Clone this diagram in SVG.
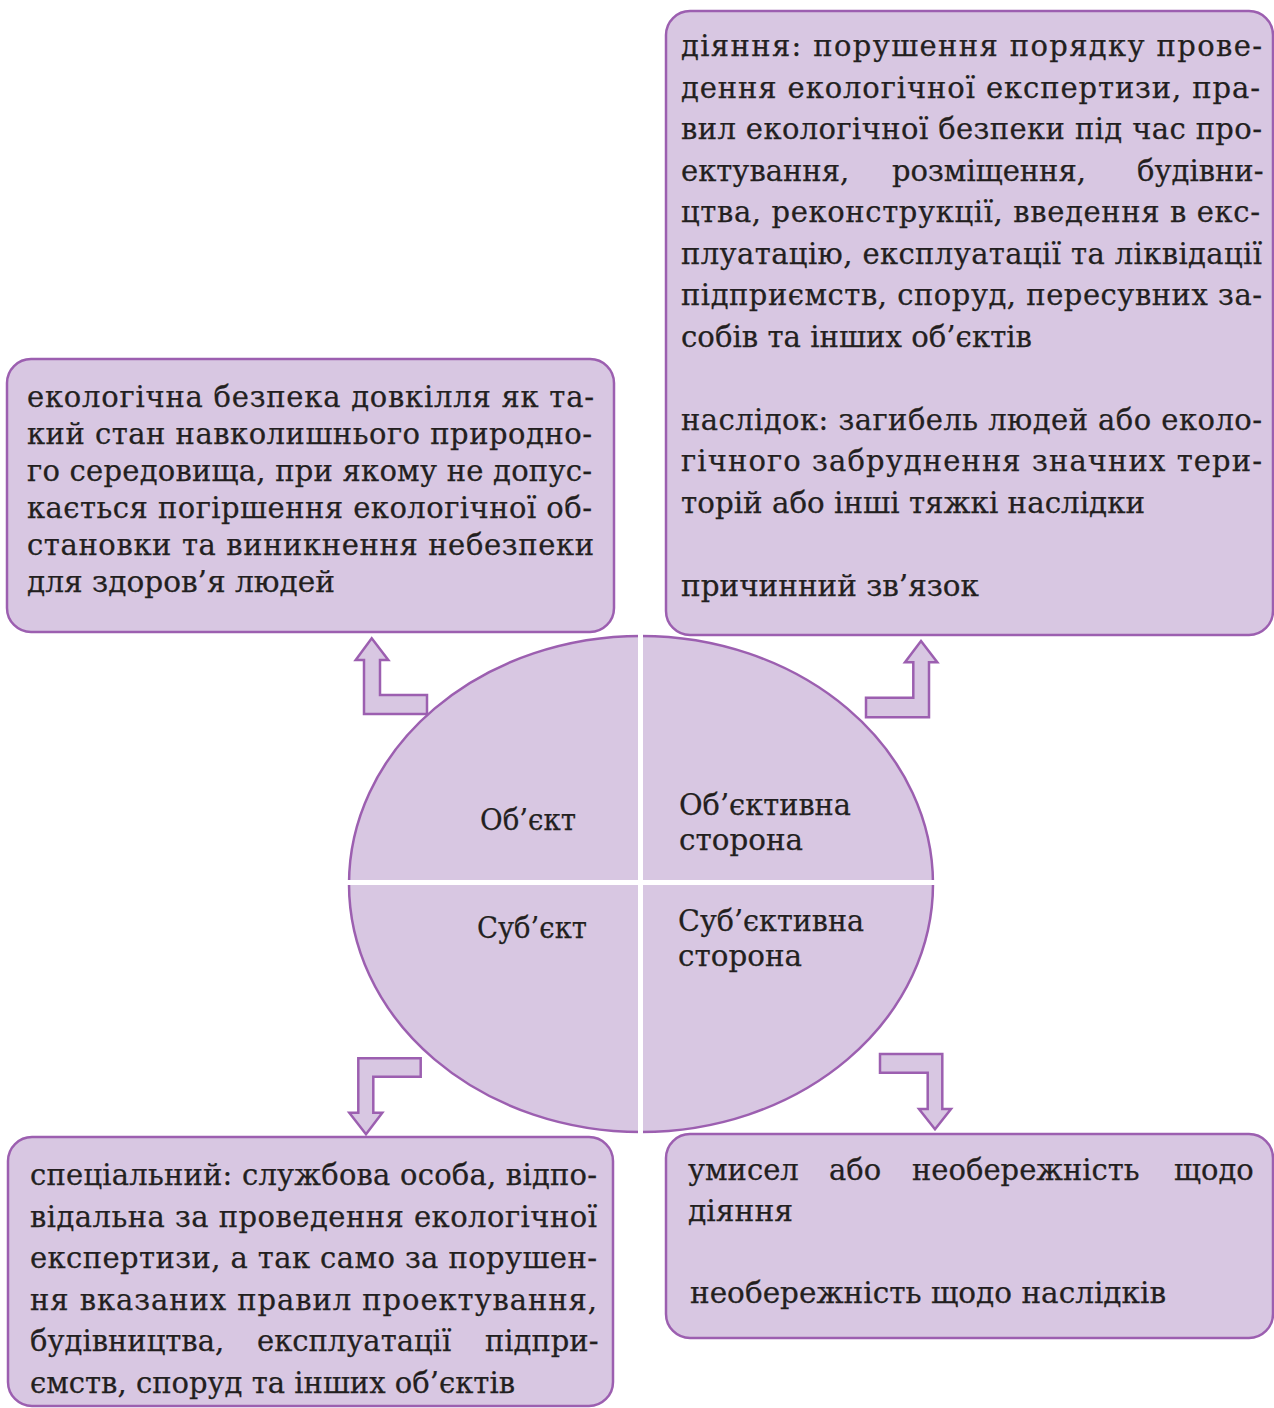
<svg xmlns="http://www.w3.org/2000/svg" width="1274" height="1408" viewBox="0 0 1274 1408">
<style>
.box{fill:#d8c7e2;stroke:#9c5fb0;stroke-width:2.5}
.shape{fill:#d8c7e2;stroke:#9c5fb0;stroke-width:2.5}
.arrow{fill:#d8c7e2;stroke:#9c5fb0;stroke-width:2.5;stroke-linejoin:miter}
text{font-family:"DejaVu Serif","Liberation Serif",serif;font-size:29px;fill:#231f20;stroke:#231f20;stroke-width:0.25}
.lbl{font-size:30px}
</style>
<rect width="1274" height="1408" fill="#ffffff"/>

<g id="center">
  <ellipse class="shape" cx="641" cy="884" rx="292" ry="248"/>
  <line x1="640.5" y1="634" x2="640.5" y2="1134" stroke="#ffffff" stroke-width="5"/>
  <line x1="347" y1="882.5" x2="935" y2="882.5" stroke="#ffffff" stroke-width="5"/>
  <text class="lbl" x="480" y="830" textLength="96" lengthAdjust="spacingAndGlyphs">Об’єкт</text>
  <text class="lbl" x="679" y="815" textLength="172" lengthAdjust="spacingAndGlyphs">Об’єктивна</text>
  <text class="lbl" x="679" y="850" textLength="124" lengthAdjust="spacingAndGlyphs">сторона</text>
  <text class="lbl" x="477" y="938" textLength="110" lengthAdjust="spacingAndGlyphs">Суб’єкт</text>
  <text class="lbl" x="678" y="931" textLength="186" lengthAdjust="spacingAndGlyphs">Суб’єктивна</text>
  <text class="lbl" x="678" y="966" textLength="124" lengthAdjust="spacingAndGlyphs">сторона</text>
</g>

<g id="object-box">
  <rect class="box" x="7" y="359" width="607" height="273" rx="24"/>
  <text x="27" y="407" textLength="567" lengthAdjust="spacing">екологічна безпека довкілля як та-</text>
  <text x="27" y="444" textLength="565" lengthAdjust="spacing">кий стан навколишнього природно-</text>
  <text x="27" y="481" textLength="565" lengthAdjust="spacing">го середовища, при якому не допус-</text>
  <text x="27" y="518" textLength="565" lengthAdjust="spacing">кається погіршення екологічної об-</text>
  <text x="27" y="555" textLength="567" lengthAdjust="spacing">становки та виникнення небезпеки</text>
  <text x="27" y="592" textLength="308" lengthAdjust="spacingAndGlyphs">для здоров’я людей</text>
</g>

<g id="objective-box">
  <rect class="box" x="666" y="11" width="607" height="624" rx="24"/>
  <text x="681" y="56" textLength="581" lengthAdjust="spacing">діяння: порушення  порядку прове-</text>
  <text x="681" y="97.5" textLength="579" lengthAdjust="spacing">дення екологічної експертизи, пра-</text>
  <text x="681" y="139" textLength="581" lengthAdjust="spacing">вил екологічної безпеки під час про-</text>
  <text y="180.5"><tspan x="681">ектування,</tspan><tspan x="892">розміщення,</tspan><tspan x="1137">будівни-</tspan></text>
  <text x="681" y="222" textLength="579" lengthAdjust="spacing">цтва, реконструкції, введення в екс-</text>
  <text x="681" y="263.5" textLength="581" lengthAdjust="spacing">плуатацію, експлуатації та ліквідації</text>
  <text x="681" y="305" textLength="581" lengthAdjust="spacing">підприємств, споруд, пересувних за-</text>
  <text x="681" y="346.5" textLength="351" lengthAdjust="spacingAndGlyphs">собів та інших об’єктів</text>
  <text x="681" y="429.5" textLength="581" lengthAdjust="spacing">наслідок: загибель людей або еколо-</text>
  <text x="681" y="471" textLength="581" lengthAdjust="spacing">гічного забруднення значних  тери-</text>
  <text x="681" y="512.5" textLength="464" lengthAdjust="spacingAndGlyphs">торій або інші тяжкі наслідки</text>
  <text x="681" y="595.5" textLength="298" lengthAdjust="spacingAndGlyphs">причинний зв’язок</text>
</g>

<g id="subject-box">
  <rect class="box" x="8" y="1137" width="605" height="269" rx="24"/>
  <text x="30" y="1185" textLength="567" lengthAdjust="spacing">спеціальний: службова особа, відпо-</text>
  <text x="30" y="1226.5" textLength="567" lengthAdjust="spacing">відальна за проведення екологічної</text>
  <text x="30" y="1268" textLength="567" lengthAdjust="spacing">експертизи, а так само за порушен-</text>
  <text x="30" y="1309.5" textLength="567" lengthAdjust="spacing">ня вказаних правил проектування,</text>
  <text y="1351"><tspan x="30">будівництва,</tspan><tspan x="257">експлуатації</tspan><tspan x="485">підпри-</tspan></text>
  <text x="30" y="1392.5" textLength="485" lengthAdjust="spacingAndGlyphs">ємств, споруд та інших об’єктів</text>
</g>

<g id="subjective-box">
  <rect class="box" x="666" y="1134" width="607" height="204" rx="24"/>
  <text y="1180"><tspan x="688">умисел</tspan><tspan x="829">або</tspan><tspan x="912">необережність</tspan><tspan x="1174">щодо</tspan></text>
  <text x="688" y="1221" textLength="105" lengthAdjust="spacingAndGlyphs">діяння</text>
  <text x="690" y="1303" textLength="476" lengthAdjust="spacingAndGlyphs">необережність щодо наслідків</text>
</g>

<g id="connectors">
  <polygon class="arrow" points="371.7,638.3 388.3,660 380,660 380,695 427,695 427,714 364,714 364,660 355.7,660"/>
  <polygon class="arrow" points="921,641 937.3,662.3 929,662.3 929,717.3 866,717.3 866,697.7 913.3,697.7 913.3,662.3 905,662.3"/>
  <polygon class="arrow" points="358.3,1058.3 420.7,1058.3 420.7,1076.7 373.3,1076.7 373.3,1112.7 382.3,1112.7 366,1134.3 349.3,1112.7 358.3,1112.7"/>
  <polygon class="arrow" points="880,1054 942.3,1054 942.3,1109 951,1109 935,1129.3 919,1109 927.7,1109 927.7,1072.7 880,1072.7"/>
</g>
</svg>
